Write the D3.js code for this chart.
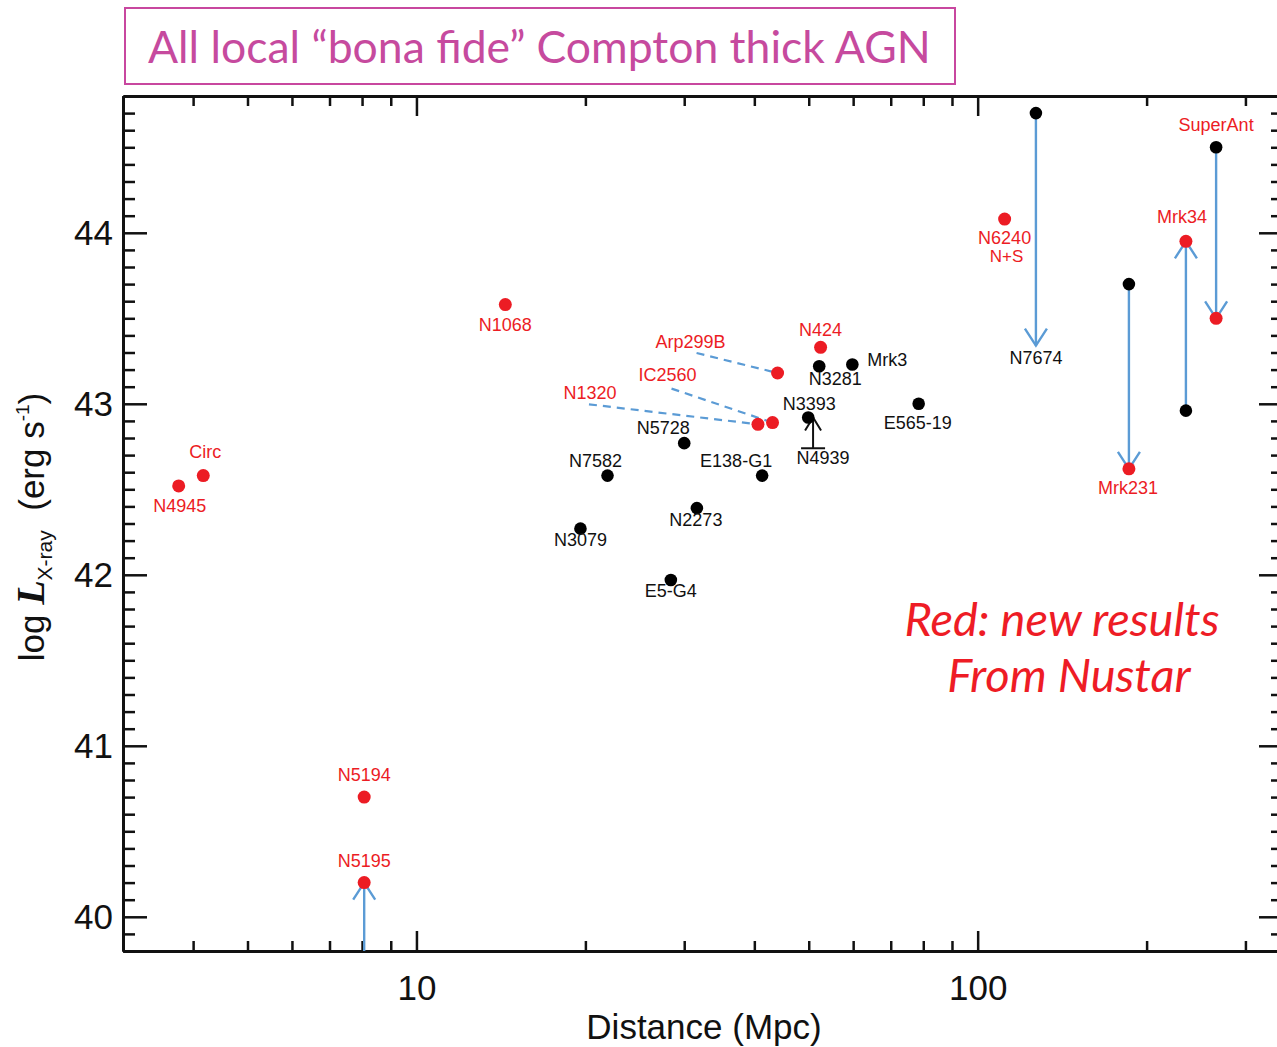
<!DOCTYPE html>
<html>
<head>
<meta charset="utf-8">
<script src="https://cdn.jsdelivr.net/npm/d3@7"></script>
<style>
body { margin: 0; background: #fff; }
svg text { font-family: "Liberation Sans", Arial, Helvetica, sans-serif; }
</style>
</head>
<body>
<svg width="1277" height="1047"></svg>
<script>
// new NuSTAR results (red points)
var redNames = ["N4945", "Circ", "N1068", "Arp299B", "N424", "IC2560", "N1320", "N6240", "Mrk231", "Mrk34", "SuperAnt", "N5194", "N5195"];
var redDist  = [3.77, 4.17, 14.4, 44.0, 52.5, 43.1, 40.6, 111.7, 186, 235, 266, 8.07, 8.07];
var redLogL  = [42.52, 42.58, 43.58, 43.18, 43.33, 42.89, 42.88, 44.08, 42.62, 43.95, 43.50, 40.70, 40.20];

// previous estimates (black points)
var blackNames = ["N7674", "Mrk231", "Mrk34", "SuperAnt", "N3281", "Mrk3", "N3393", "E565-19", "N5728", "N7582", "E138-G1", "N2273", "N3079", "E5-G4"];
var blackDist  = [127, 186, 235, 266, 52.2, 59.8, 49.9, 78.5, 30.0, 21.9, 41.3, 31.6, 19.6, 28.4];
var blackLogL  = [44.70, 43.70, 42.96, 44.50, 43.22, 43.23, 42.92, 43.00, 42.77, 42.58, 42.58, 42.39, 42.27, 41.97];

// blue arrows, old value -> new value
var arrowNames = ["N7674", "Mrk231", "Mrk34", "SuperAnt", "N5195"];
var arrowDist  = [127, 186, 235, 266, 8.07];
var arrowFrom  = [44.70, 43.70, 42.96, 44.50, 39.8];
var arrowTo    = [43.34, 42.62, 43.95, 43.50, 40.20];

// lower limit (black arrow)
var limitNames = ["N4939"];
var limitDist  = [50.9];
var limitFrom  = [42.74];
var limitTo    = [42.92];

// axis ticks
var xMajor = [10, 100];
var xMinor = [3, 4, 5, 6, 7, 8, 9, 20, 30, 40, 50, 60, 70, 80, 90, 200, 300];
var yMajor = [40, 41, 42, 43, 44];

var red = "#ec1c24", blue = "#5b9bd5";

var svg = d3.select("svg");
var width = 1160, height = 855;
var g = svg.append("g").attr("transform", "translate(123,96)");

var x = d3.scaleLog().domain([3, 350]).range([0, width]);
var y = d3.scaleLinear().domain([39.8, 44.8]).range([height, 0]);

// title box
svg.append("rect")
  .attr("x", 125).attr("y", 8).attr("width", 830).attr("height", 76)
  .attr("fill", "none").attr("stroke", "#c8479f").attr("stroke-width", 2);
svg.append("text")
  .attr("x", 148).attr("y", 63)
  .attr("font-size", "44.5px")
  .style("font-family", "Lato, 'Open Sans', sans-serif")
  .attr("fill", "#c64a9e")
  .text("All local \u201cbona fide\u201d Compton thick AGN");

// axes
var yMinor = d3.range(398, 448).map(function(d) { return d / 10; })
  .filter(function(d) { return yMajor.indexOf(d) < 0; });

function styleAxis(sel) {
  sel.select(".domain").attr("stroke", "#111").attr("stroke-width", 3);
  sel.selectAll(".tick line").attr("stroke", "#111").attr("stroke-width", 2.5);
  sel.selectAll(".tick text").attr("font-size", "35px").attr("fill", "#111")
    .style("font-family", "'Liberation Sans', Arial, sans-serif");
}

g.append("g").attr("transform", "translate(0," + height + ")")
  .call(d3.axisBottom(x).tickValues(xMinor).tickSize(-10).tickSizeOuter(0).tickFormat(""))
  .call(styleAxis);
g.append("g").attr("transform", "translate(0," + height + ")")
  .call(d3.axisBottom(x).tickValues(xMajor).tickSize(-20).tickSizeOuter(0).tickPadding(24).tickFormat(d3.format("d")))
  .call(styleAxis);
g.append("g")
  .call(d3.axisTop(x).tickValues(xMinor).tickSize(-10).tickSizeOuter(0).tickFormat(""))
  .call(styleAxis);
g.append("g")
  .call(d3.axisTop(x).tickValues(xMajor).tickSize(-20).tickSizeOuter(0).tickFormat(""))
  .call(styleAxis);
g.append("g")
  .call(d3.axisLeft(y).tickValues(yMinor).tickSize(-12).tickSizeOuter(0).tickFormat(""))
  .call(styleAxis);
g.append("g")
  .call(d3.axisLeft(y).tickValues(yMajor).tickSize(-24).tickSizeOuter(0).tickPadding(10).tickFormat(d3.format("d")))
  .call(styleAxis);
g.append("g").attr("transform", "translate(" + width + ",0)")
  .call(d3.axisRight(y).tickValues(yMinor).tickSize(-12).tickSizeOuter(0).tickFormat(""))
  .call(styleAxis);
g.append("g").attr("transform", "translate(" + width + ",0)")
  .call(d3.axisRight(y).tickValues(yMajor).tickSize(-24).tickSizeOuter(0).tickFormat(""))
  .call(styleAxis);

// axis titles
svg.append("text")
  .attr("x", 704).attr("y", 1039)
  .attr("text-anchor", "middle")
  .attr("font-size", "35px").attr("fill", "#111")
  .text("Distance (Mpc)");

var ylab = svg.append("text")
  .attr("transform", "translate(44,527) rotate(-90)")
  .attr("text-anchor", "middle")
  .attr("font-size", "35px").attr("fill", "#111");
ylab.append("tspan").text("log ");
ylab.append("tspan").text("L")
  .style("font-family", "'Liberation Serif', 'Times New Roman', serif")
  .attr("font-weight", "bold").attr("font-style", "italic").attr("font-size", "40px");
ylab.append("tspan").text("X-ray").attr("font-size", "21px").attr("dy", 8);
ylab.append("tspan").text("\u00a0\u00a0(erg s").attr("dy", -8);
ylab.append("tspan").text("-1").attr("font-size", "19px").attr("dy", -15);
ylab.append("tspan").text(")").attr("dy", 15);

// arrowhead helper
function head(sel, px, py, dir, w, h) {
  sel.append("path")
    .attr("d", "M" + (px - w) + "," + (py + dir * h) + "L" + px + "," + py + "L" + (px + w) + "," + (py + dir * h))
    .attr("fill", "none");
}

// blue arrows
arrowNames.forEach(function(n, i) {
  var ax = x(arrowDist[i]), y0 = y(arrowFrom[i]), y1 = y(arrowTo[i]);
  var dir = y1 < y0 ? 1 : -1;
  var a = g.append("g").attr("stroke", blue).attr("stroke-width", 2.4);
  a.append("line").attr("x1", ax).attr("x2", ax).attr("y1", y0).attr("y2", y1);
  head(a, ax, y1, dir, 11, 17);
});

// lower limit arrow
limitNames.forEach(function(n, i) {
  var lx = x(limitDist[i]), y0 = y(limitFrom[i]), y1 = y(limitTo[i]);
  var a = g.append("g").attr("stroke", "#111").attr("stroke-width", 2);
  a.append("line").attr("x1", lx - 12).attr("x2", lx + 12).attr("y1", y0).attr("y2", y0);
  a.append("line").attr("x1", lx).attr("x2", lx).attr("y1", y0).attr("y2", y1);
  head(a, lx, y1, 1, 8, 13);
});

// dashed leaders from labels
var leaders = [
  { name: "Arp299B", sx: -81, sy: -20 },
  { name: "IC2560", sx: -101, sy: -34 },
  { name: "N1320", sx: -169, sy: -20 }
];
leaders.forEach(function(l) {
  var i = redNames.indexOf(l.name);
  var px = x(redDist[i]), py = y(redLogL[i]);
  var len = Math.sqrt(l.sx * l.sx + l.sy * l.sy);
  g.append("line")
    .attr("x1", px + l.sx).attr("y1", py + l.sy)
    .attr("x2", px + l.sx * 6 / len).attr("y2", py + l.sy * 6 / len)
    .attr("stroke", blue).attr("stroke-width", 2.2)
    .attr("stroke-dasharray", "8,6");
});

// points
g.selectAll(".black").data(blackNames).enter().append("circle")
  .attr("class", "black")
  .attr("cx", function(d, i) { return x(blackDist[i]); })
  .attr("cy", function(d, i) { return y(blackLogL[i]); })
  .attr("r", 6.3).attr("fill", "#000");

g.selectAll(".red").data(redNames).enter().append("circle")
  .attr("class", "red")
  .attr("cx", function(d, i) { return x(redDist[i]); })
  .attr("cy", function(d, i) { return y(redLogL[i]); })
  .attr("r", 6.5).attr("fill", red);

// point labels (offsets in px from their anchor)
var labels = [
  { name: "N4945", on: "red", dx: 1, dy: 20, c: red },
  { name: "Circ", on: "red", dx: 2, dy: -24, c: red },
  { name: "N1068", on: "red", dx: 0, dy: 20, c: red },
  { name: "Arp299B", on: "red", dx: -87, dy: -31, c: red },
  { name: "N424", on: "red", dx: 0, dy: -18, c: red },
  { name: "IC2560", on: "red", dx: -105, dy: -48, c: red },
  { name: "N1320", on: "red", dx: -168, dy: -32, c: red },
  { name: "N6240", on: "red", dx: 0, dy: 19, c: red, second: "N+S" },
  { name: "Mrk231", on: "red", dx: -1, dy: 19, c: red },
  { name: "Mrk34", on: "red", dx: -4, dy: -25, c: red },
  { name: "SuperAnt", on: "black", dx: 0, dy: -23, c: red },
  { name: "N5194", on: "red", dx: 0, dy: -22, c: red },
  { name: "N5195", on: "red", dx: 0, dy: -22, c: red },
  { name: "N7674", on: "tip", dx: 0, dy: 12, c: "#111" },
  { name: "N3281", on: "black", dx: 16, dy: 13, c: "#111" },
  { name: "Mrk3", on: "black", dx: 35, dy: -5, c: "#111" },
  { name: "N3393", on: "black", dx: 1, dy: -14, c: "#111" },
  { name: "N4939", on: "limit", dx: 10, dy: 9, c: "#111" },
  { name: "E565-19", on: "black", dx: -1, dy: 19, c: "#111" },
  { name: "N5728", on: "black", dx: -21, dy: -15, c: "#111" },
  { name: "N7582", on: "black", dx: -12, dy: -15, c: "#111" },
  { name: "E138-G1", on: "black", dx: -26, dy: -15, c: "#111" },
  { name: "N2273", on: "black", dx: -1, dy: 12, c: "#111" },
  { name: "N3079", on: "black", dx: 0, dy: 11, c: "#111" },
  { name: "E5-G4", on: "black", dx: 0, dy: 11, c: "#111" }
];

function anchor(l) {
  var i;
  if (l.on == "red") { i = redNames.indexOf(l.name); return [x(redDist[i]), y(redLogL[i])]; }
  if (l.on == "black") { i = blackNames.indexOf(l.name); return [x(blackDist[i]), y(blackLogL[i])]; }
  if (l.on == "tip") { i = arrowNames.indexOf(l.name); return [x(arrowDist[i]), y(arrowTo[i])]; }
  i = limitNames.indexOf(l.name); return [x(limitDist[i]), y(limitFrom[i])];
}

labels.forEach(function(l) {
  var p = anchor(l);
  g.append("text")
    .attr("x", p[0] + l.dx).attr("y", p[1] + l.dy)
    .attr("dy", "0.35em")
    .attr("text-anchor", "middle")
    .attr("font-size", "18px")
    .attr("fill", l.c)
    .text(l.name);
  if (l.second) {
    g.append("text")
      .attr("x", p[0] + l.dx + 2).attr("y", p[1] + l.dy + 18)
      .attr("dy", "0.35em")
      .attr("text-anchor", "middle")
      .attr("font-size", "17px")
      .attr("fill", l.c)
      .text(l.second);
  }
});

// note
var note = svg.append("g")
  .attr("fill", "#ee1c25")
  .attr("font-size", "47px")
  .attr("font-style", "italic")
  .attr("text-anchor", "middle");
note.append("text").attr("x", 1062).attr("y", 636)
  .style("font-family", "Lato, 'Open Sans', sans-serif").text("Red: new results");
note.append("text").attr("x", 1069).attr("y", 692)
  .style("font-family", "Lato, 'Open Sans', sans-serif").text("From Nustar");
</script>
</body>
</html>
